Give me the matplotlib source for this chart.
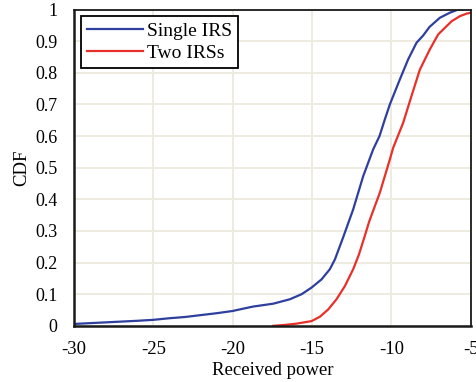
import matplotlib.pyplot as plt

# CDF of received power for the two deployments
single_x = [-30, -28, -26, -25, -24, -23, -22, -21, -20, -19.55, -18.71, -17.45, -16.4, -15.66,
            -15.03, -14.4, -13.88, -13.56, -13.04, -12.41, -11.78, -11.15, -10.75, -10.42, -10.1,
            -9.47, -8.95, -8.42, -8.0, -7.6, -6.95, -6.32, -5.8, -5.5]
single_y = [0.006, 0.011, 0.016, 0.019, 0.024, 0.028, 0.034, 0.040, 0.047, 0.052, 0.061, 0.070, 0.084, 0.100,
            0.121, 0.147, 0.179, 0.21, 0.28, 0.368, 0.473, 0.558, 0.60, 0.652, 0.70,
            0.779, 0.842, 0.895, 0.918, 0.945, 0.974, 0.990, 1.0, 1.0]

two_x = [-17.45, -16.7, -15.98, -15.03, -14.5, -13.98, -13.46, -12.93, -12.41, -12.05, -11.68,
         -11.4, -10.73, -10.1, -9.89, -9.26, -8.74, -8.21, -7.58, -7.06, -6.74, -6.21,
         -5.69, -5.27, -5.0]
two_y = [0.0, 0.003, 0.007, 0.015, 0.029, 0.052, 0.084, 0.126, 0.179, 0.225, 0.284,
         0.33, 0.421, 0.526, 0.563, 0.642, 0.726, 0.810, 0.874, 0.921, 0.937, 0.963,
         0.979, 0.987, 0.99]

xticks = [-30, -25, -20, -15, -10, -5]
yticks = [0, 0.1, 0.2, 0.3, 0.4, 0.5, 0.6, 0.7, 0.8, 0.9, 1]
ytick_labels = ['0', '0.1', '0.2', '0.3', '0.4', '0.5', '0.6', '0.7', '0.8', '0.9', '1']

plt.rcParams['font.family'] = ['Liberation Serif', 'DejaVu Serif']
plt.rcParams['font.size'] = 13.5
plt.rcParams['axes.unicode_minus'] = False

fig = plt.figure(figsize=(4.77, 3.82), dpi=100)
ax = fig.add_axes([0.155, 0.147, 0.832, 0.828])

ax.plot(single_x, single_y, color='#2E3F9E', lw=1.6, label='Single IRS')
ax.plot(two_x, two_y, color='#E8302A', lw=1.6, label='Two IRSs')

ax.set_xlim(-30, -5)
ax.set_ylim(0, 1)
ax.set_xticks(xticks)
ax.set_yticks(yticks)
ax.set_yticklabels(ytick_labels)
ax.tick_params(axis='y', length=0, pad=12, labelsize=13)
ax.tick_params(axis='x', length=0, pad=11, labelsize=13.5)
ax.grid(True, color='#EEEBE0', lw=1.4)
ax.set_axisbelow(True)
for s in ax.spines.values():
    s.set_color('#1a1a1a')
    s.set_linewidth(1.3)
ax.spines['left'].set_linewidth(1.8)
ax.spines['bottom'].set_linewidth(1.8)

ax.set_xlabel('Received power', labelpad=3)
ax.set_ylabel('CDF', labelpad=3)

leg = ax.legend(loc='upper left', fancybox=False, framealpha=1, edgecolor='black',
                borderaxespad=0.35, handlelength=2.9, handletextpad=0.2,
                borderpad=0.3, labelspacing=0.25, fontsize=14)
leg.get_frame().set_linewidth(1.3)

fig.savefig('out.png', dpi=100)
